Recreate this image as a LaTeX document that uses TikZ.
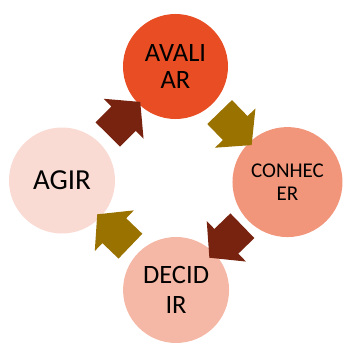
\documentclass[tikz,border=0pt]{standalone}
\usepackage{fontspec}
\setmainfont{Carlito}
\usetikzlibrary{shapes.arrows}
\definecolor{avaliarfill}{HTML}{E84D24}
\definecolor{conhecerfill}{HTML}{F2967B}
\definecolor{decidirfill}{HTML}{F6B8A6}
\definecolor{agirfill}{HTML}{FADBD4}
\definecolor{olivearrow}{HTML}{9A7200}
\definecolor{brownarrow}{HTML}{77230F}
\tikzset{
  stage/.style={circle,inner sep=0pt,align=center,text=black},
  flow/.style={single arrow,midway,sloped,allow upside down,inner xsep=0pt,inner ysep=17pt,
    minimum height=46pt,single arrow head extend=11pt,single arrow tip angle=100}
}
\begin{document}
\begin{tikzpicture}[x=1pt,y=1pt]
\useasboundingbox (-175.5,-162.5) rectangle (169.5,180.5);
\draw (90:114) node[stage,minimum size=105pt,fill=avaliarfill,font=\fontsize{26.5}{27}\selectfont] (v0) {AVALI\\AR};
\draw (-0.8:112) node[stage,minimum size=110pt,fill=conhecerfill,font=\fontsize{21}{23}\selectfont] (v1) {CONHEC\\ER};
\draw (270.3:109.5) node[stage,minimum size=106pt,fill=decidirfill,font=\fontsize{26.5}{30}\selectfont] (v2) {DECID\\IR};
\draw (180:113.5) node[stage,minimum size=106pt,fill=agirfill,font=\fontsize{29}{32}\selectfont] (v3) {AGIR};
\path (v0) -- (v1) node[flow,fill=olivearrow] (a0) {};
\path (v1) -- (v2) node[flow,fill=brownarrow] (a1) {};
\path (v2) -- (v3) node[flow,fill=olivearrow] (a2) {};
\path (v3) -- (v0) node[flow,fill=brownarrow] (a3) {};
\end{tikzpicture}
\end{document}
